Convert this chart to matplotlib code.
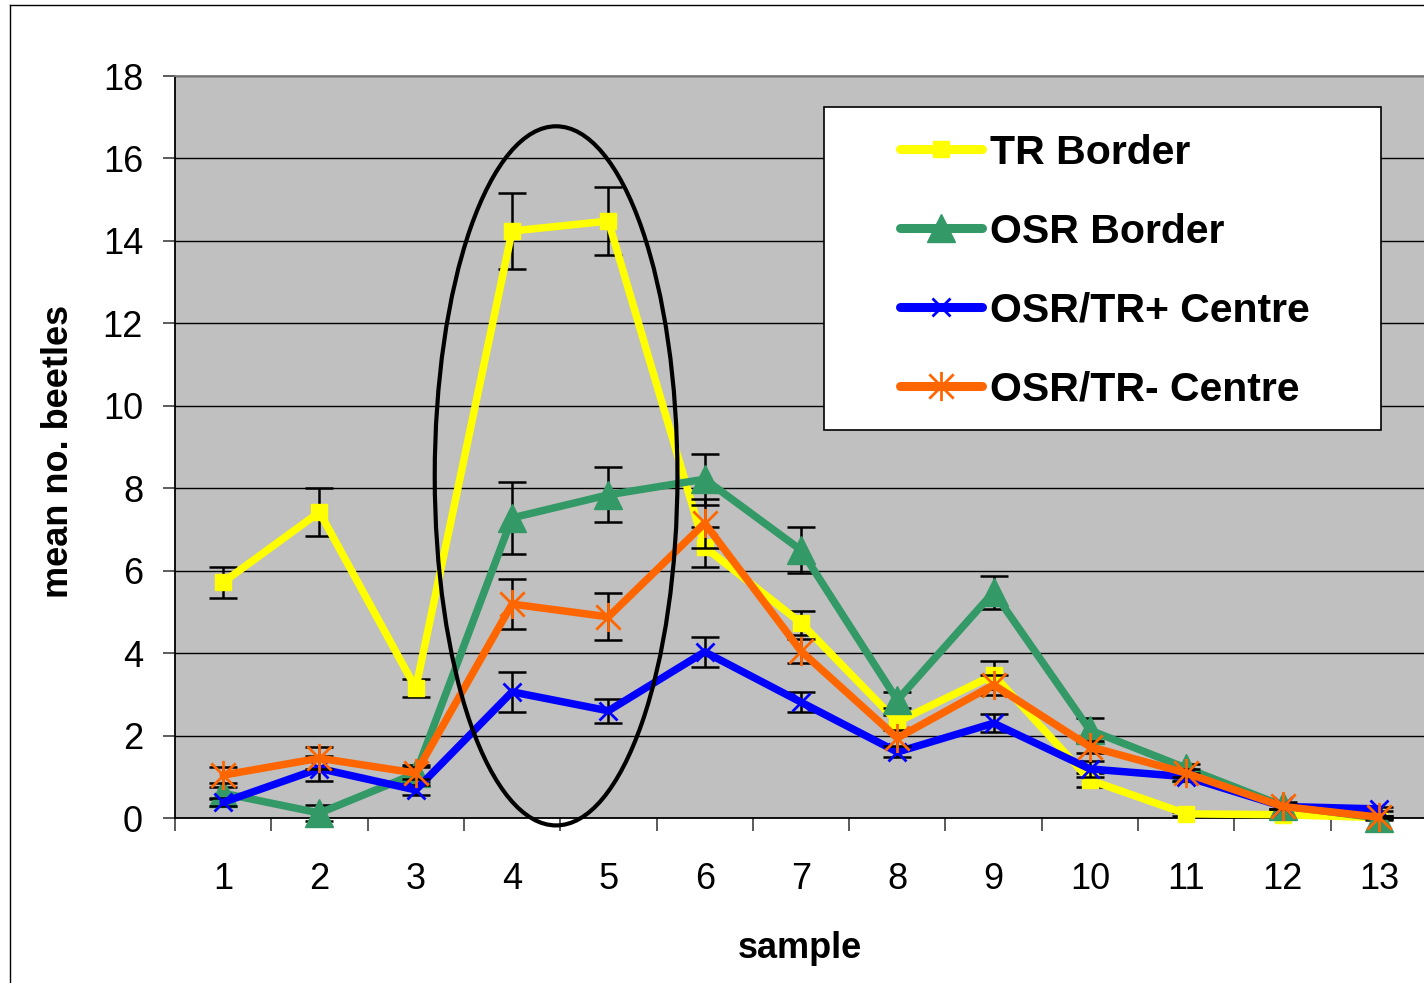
import matplotlib
matplotlib.use("Agg")
import matplotlib.pyplot as plt
from matplotlib.path import Path
from matplotlib.patches import Ellipse, Rectangle
from matplotlib.lines import Line2D
import numpy as np

plt.rcParams['font.family'] = ['Liberation Sans', 'DejaVu Sans']

samples = [1, 2, 3, 4, 5, 6, 7, 8, 9, 10, 11, 12, 13]
tick_labels = [str(s) for s in samples]

tr_border = [5.72, 7.42, 3.15, 14.24, 14.48, 6.57, 4.73, 2.33, 3.47, 0.92, 0.10, 0.08, 0.01]
tr_border_err = [0.38, 0.58, 0.22, 0.93, 0.83, 0.48, 0.30, 0.17, 0.33, 0.17, 0.05, 0.05, 0.03]

osr_border = [0.60, 0.12, 1.08, 7.28, 7.84, 8.22, 6.50, 2.86, 5.48, 2.13, 1.21, 0.30, 0.00]
osr_border_err = [0.15, 0.20, 0.20, 0.87, 0.67, 0.62, 0.55, 0.20, 0.40, 0.30, 0.10, 0.08, 0.05]

osr_tr_plus = [0.38, 1.20, 0.68, 3.06, 2.60, 4.03, 2.81, 1.60, 2.30, 1.19, 1.00, 0.28, 0.22]
osr_tr_plus_err = [0.10, 0.30, 0.12, 0.48, 0.29, 0.37, 0.24, 0.12, 0.22, 0.20, 0.10, 0.05, 0.05]

osr_tr_minus = [1.04, 1.45, 1.09, 5.19, 4.88, 7.15, 4.05, 1.94, 3.23, 1.73, 1.09, 0.28, 0.02]
osr_tr_minus_err = [0.20, 0.27, 0.15, 0.60, 0.57, 0.60, 0.29, 0.20, 0.25, 0.15, 0.10, 0.05, 0.03]

names = ["TR Border", "OSR Border", "OSR/TR+ Centre", "OSR/TR- Centre"]
colors = ["#FFFF00", "#339966", "#0000FF", "#FF6600"]

star = Path([(-1, -1), (1, 1), (-1, 1), (1, -1), (0, -1.2), (0, 1.2)],
            [Path.MOVETO, Path.LINETO, Path.MOVETO, Path.LINETO, Path.MOVETO, Path.LINETO])

W, H = 1424, 983
fig = plt.figure(figsize=(W / 100, H / 100), dpi=100)
ax_left, ax_right, ax_top, ax_bottom = 175, 1427, 76, 818
ax = fig.add_axes([ax_left / W, 1 - ax_bottom / H, (ax_right - ax_left) / W, (ax_bottom - ax_top) / H])
ax.set_facecolor("#C0C0C0")

x = np.array(samples)
series = [
    (tr_border, tr_border_err, dict(marker='s', markersize=11, markerfacecolor=colors[0], markeredgecolor=colors[0])),
    (osr_border, osr_border_err, dict(marker='^', markersize=20, markerfacecolor=colors[1], markeredgecolor=colors[1])),
    (osr_tr_plus, osr_tr_plus_err, dict(marker='x', markersize=13, markeredgewidth=2.0, markeredgecolor=colors[2])),
    (osr_tr_minus, osr_tr_minus_err, dict(marker=star, markersize=21, markeredgewidth=2.0, markerfacecolor='none', markeredgecolor=colors[3])),
]

for i, (vals, errs, mk) in enumerate(series):
    z = 3 + i
    ax.errorbar(x, vals, yerr=errs, fmt='none', ecolor='black', elinewidth=1.8,
                capsize=10, capthick=1.8, zorder=z, clip_on=False)
    ax.plot(x, vals, color=colors[i], linewidth=5.4, solid_joinstyle='round',
            solid_capstyle='round', zorder=z + 0.5, clip_on=False, label=names[i], **mk)

ax.set_xlim(0.5, 13.5)
ax.set_ylim(0, 18)
ax.set_yticks(np.arange(0, 19, 2))
ax.set_yticklabels([str(v) for v in range(0, 19, 2)])
ax.yaxis.grid(True, color='black', linewidth=1.0, zorder=1)
ax.set_axisbelow(True)

ax.set_xticks(np.arange(0.5, 14.0, 1.0))
ax.set_xticklabels([])
ax.set_xticks(x, minor=True)
ax.set_xticklabels(tick_labels, minor=True)
ax.tick_params(axis='x', which='major', direction='out', length=9, width=1.2, color='#404040')
ax.tick_params(axis='x', which='minor', length=0, pad=32, labelsize=26)
ax.tick_params(axis='y', direction='out', length=9, width=1.2, color='#404040', pad=14, labelsize=26)

for s in ['left', 'bottom']:
    ax.spines[s].set_color('black')
    ax.spines[s].set_linewidth(1.3)
for s in ['top', 'right']:
    ax.spines[s].set_color('#808080')
    ax.spines[s].set_linewidth(1.3)

ax.set_xlabel("sample", fontsize=26, fontweight='bold')
ax.set_ylabel("mean no. beetles", fontsize=26, fontweight='bold')
ax.xaxis.set_label_coords((800 - ax_left) / (ax_right - ax_left), -(948 - ax_bottom) / (ax_bottom - ax_top))
ax.xaxis.label.set_verticalalignment('center')
ax.yaxis.set_label_coords((58 - ax_left) / (ax_right - ax_left), 1 - (451 - ax_top) / (ax_bottom - ax_top))
ax.yaxis.label.set_verticalalignment('center')

# ellipse highlighting samples 4-5
ell = Ellipse((4.457, 8.30), width=2.52, height=16.96, fill=False, edgecolor='black',
              linewidth=3.0, zorder=10, clip_on=False)
ax.add_patch(ell)

# legend frame
frame = Rectangle((824 / W, 1 - 430 / H), 557 / W, 323 / H, transform=fig.transFigure,
                  facecolor='white', edgecolor='black', linewidth=1.2, zorder=8)
ax.add_artist(frame)
frame.set_clip_on(False)

leg_handles = []
for i, (vals, errs, mk) in enumerate(series):
    leg_handles.append(Line2D([0], [0], color=colors[i], linewidth=6.5, solid_capstyle='round', **mk))
leg = ax.legend(leg_handles, names, loc='center left', bbox_to_anchor=(900 / W, 1 - 271 / H),
                bbox_transform=fig.transFigure, frameon=False, borderpad=0, borderaxespad=0,
                handlelength=2.0, handletextpad=0.2, labelspacing=1.0, numpoints=1,
                prop={'size': 29.5, 'weight': 'bold'})
leg.set_zorder(9)

# outer chart border
fig.add_artist(Line2D([10 / W, 10 / W], [0, 1 - 5 / H], color='black', linewidth=1.0, transform=fig.transFigure))
fig.add_artist(Line2D([10 / W, 1], [1 - 5 / H, 1 - 5 / H], color='black', linewidth=1.0, transform=fig.transFigure))

fig.savefig("out.png", dpi=100)
